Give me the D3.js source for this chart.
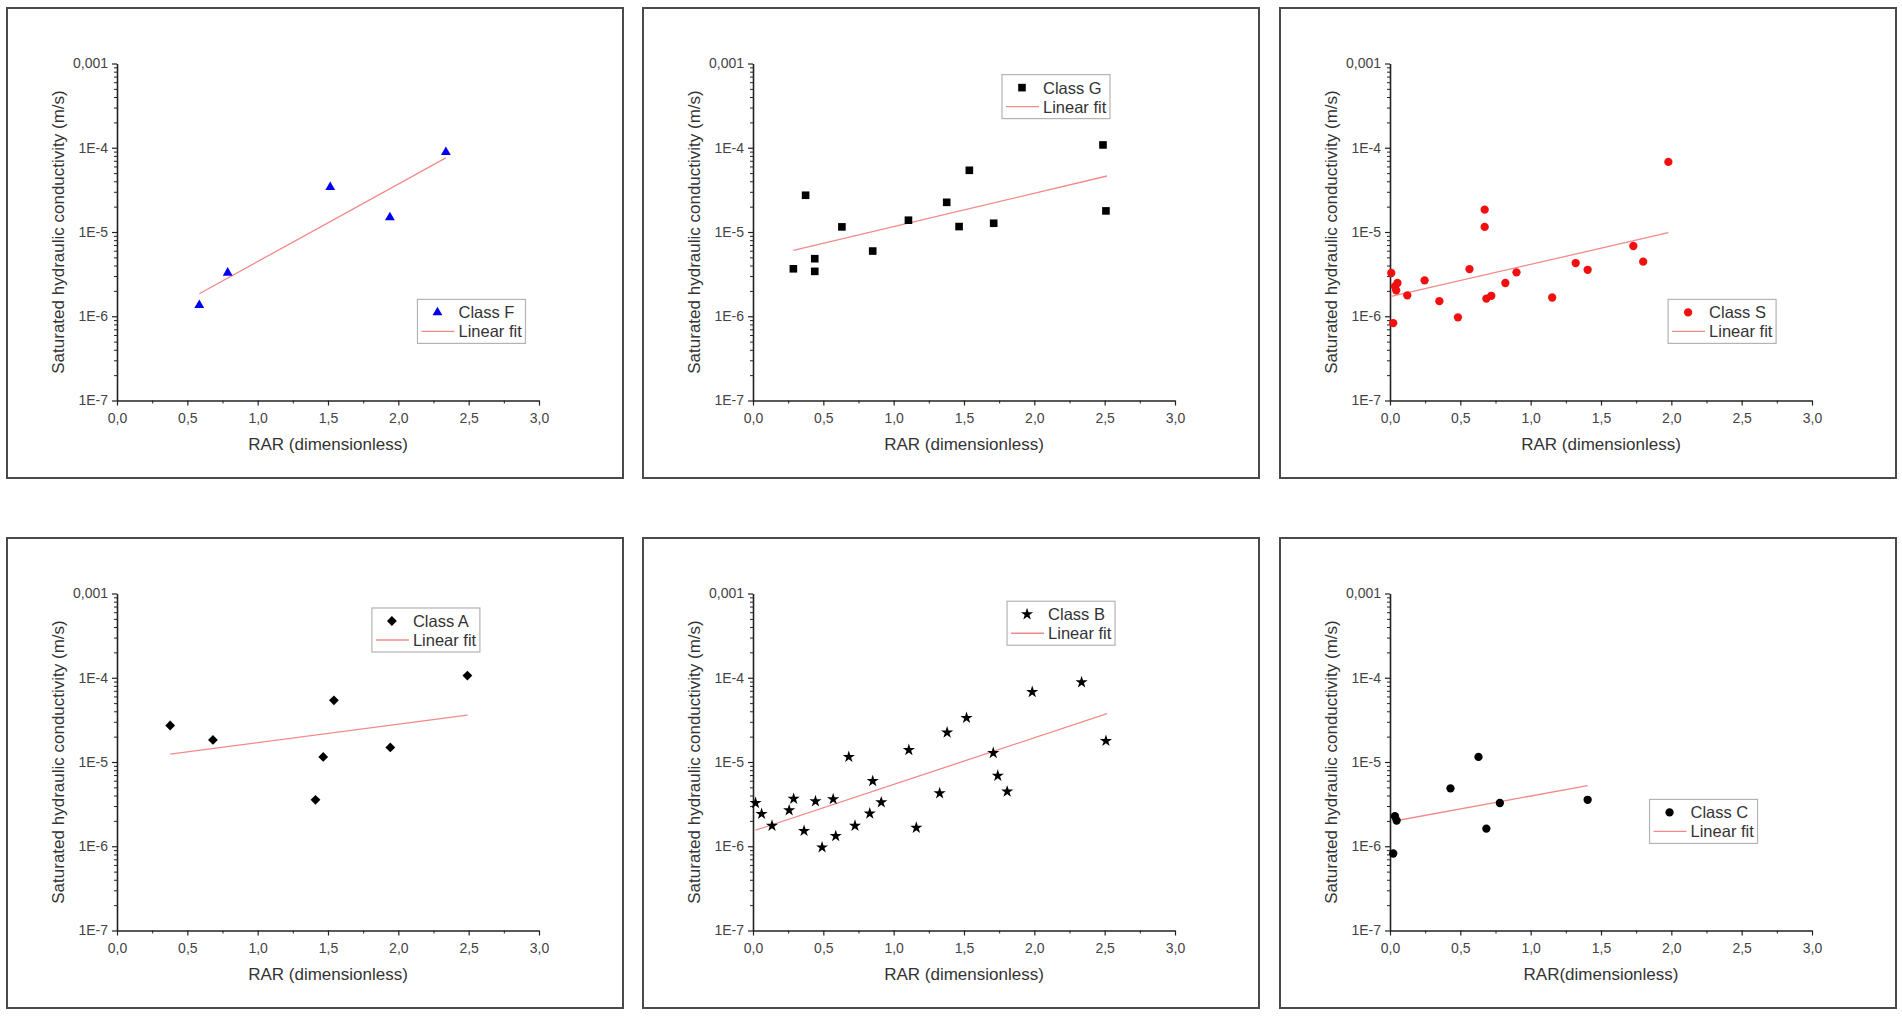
<!DOCTYPE html>
<html>
<head>
<meta charset="utf-8">
<script src="https://cdn.jsdelivr.net/npm/d3@7"></script>
<style>
  html, body { margin: 0; padding: 0; background: #fff; }
  svg { display: block; }
  text { font-family: "Liberation Sans", Arial, sans-serif; }
</style>
</head>
<body>
<div id="chart"></div>
<script>
// Six log-scale scatter panels: saturated hydraulic conductivity vs RAR, one per class.

// --- data ---
const rarF = [0.585, 0.787, 1.516, 1.940, 2.338];
const ksF = [1.35e-6, 3.28e-6, 3.4e-5, 1.49e-5, 8.85e-5];
const fitRarF = [0.585, 2.338];
const fitKsF = [1.85e-6, 7.58e-5];

const rarG = [0.287, 0.374, 0.439, 0.439, 0.632, 0.851, 1.105, 1.377, 1.465, 1.538, 1.711, 2.488, 2.509];
const ksG = [3.66e-6, 2.73e-5, 4.82e-6, 3.41e-6, 1.15e-5, 5.94e-6, 1.38e-5, 2.25e-5, 1.16e-5, 5.4e-5, 1.27e-5, 1.08e-4, 1.78e-5];
const fitRarG = [0.287, 2.517];
const fitKsG = [6.05e-6, 4.62e-5];

const rarS = [0.009, 0.023, 0.035, 0.044, 0.053, 0.123, 0.246, 0.351, 0.483, 0.565, 0.673, 0.673,
              0.685, 0.720, 0.820, 0.899, 1.153, 1.320, 1.405, 1.730, 1.800, 1.979];
const ksS = [3.26e-6, 8.3e-7, 2.26e-6, 2.03e-6, 2.48e-6, 1.77e-6, 2.67e-6, 1.51e-6, 9.7e-7, 3.63e-6, 1.84e-5, 1.15e-5,
             1.62e-6, 1.75e-6, 2.48e-6, 3.32e-6, 1.67e-6, 4.28e-6, 3.56e-6, 6.82e-6, 4.45e-6, 6.79e-5];
const fitRarS = [0.009, 1.979];
const fitKsS = [1.72e-6, 9.8e-6];

const rarA = [0.378, 0.682, 1.411, 1.466, 1.542, 1.943, 2.491];
const ksA = [2.71e-5, 1.83e-5, 3.56e-6, 1.15e-5, 5.4e-5, 1.49e-5, 1.06e-4];
const fitRarA = [0.378, 2.491];
const fitKsA = [1.24e-5, 3.61e-5];

const rarB = [0.018, 0.061, 0.135, 0.257, 0.289, 0.363, 0.444, 0.491, 0.570, 0.588, 0.681, 0.725, 0.830,
              0.851, 0.912, 1.108, 1.161, 1.327, 1.380, 1.518, 1.708, 1.740, 1.807, 1.985, 2.336, 2.509];
const ksB = [3.26e-6, 2.42e-6, 1.75e-6, 2.67e-6, 3.66e-6, 1.52e-6, 3.42e-6, 9.7e-7, 3.62e-6, 1.32e-6, 1.15e-5, 1.75e-6, 2.45e-6,
             5.94e-6, 3.32e-6, 1.39e-5, 1.66e-6, 4.26e-6, 2.24e-5, 3.34e-5, 1.28e-5, 6.87e-6, 4.46e-6, 6.78e-5, 8.85e-5, 1.78e-5];
const fitRarB = [0.018, 2.517];
const fitKsB = [1.55e-6, 3.75e-5];

const rarC = [0.023, 0.035, 0.047, 0.430, 0.629, 0.685, 0.781, 1.405];
const ksC = [8.2e-7, 2.27e-6, 2.02e-6, 4.87e-6, 1.15e-5, 1.62e-6, 3.26e-6, 3.56e-6];
const fitRarC = [0.023, 1.405];
const fitKsC = [1.98e-6, 5.25e-6];

const classLabels = ['Class F', 'Class G', 'Class S', 'Class A', 'Class B', 'Class C'];
const xTitles = ['RAR (dimensionless)', 'RAR (dimensionless)', 'RAR (dimensionless)',
                 'RAR (dimensionless)', 'RAR (dimensionless)', 'RAR(dimensionless)'];
const yTitle = 'Saturated hydraulic conductivity (m/s)';
const fitLabel = 'Linear fit';

const xTicks = [0, 0.5, 1.0, 1.5, 2.0, 2.5, 3.0];
const xTickLabels = ['0,0', '0,5', '1,0', '1,5', '2,0', '2,5', '3,0'];
const yTicks = [1e-7, 1e-6, 1e-5, 1e-4, 1e-3];
const yTickLabels = ['1E-7', '1E-6', '1E-5', '1E-4', '0,001'];

// --- layout ---
const W = 1902, H = 1017;
const panelLefts = [7, 643, 1280];
const panelTops = [8, 538];
const panelW = 616, panelH = 470;
const plotOffX = 110, plotOffY = 55.5;
const plotW = 422, plotH = 337;

const panels = [
  { x: rarF, y: ksF, fx: fitRarF, fy: fitKsF, symbol: 'triangle', color: '#0000f0', legend: [0.712, 0.70] },
  { x: rarG, y: ksG, fx: fitRarG, fy: fitKsG, symbol: 'square', color: '#000', legend: [0.59, 0.033] },
  { x: rarS, y: ksS, fx: fitRarS, fy: fitKsS, symbol: 'circle', color: '#f01010', legend: [0.659, 0.70] },
  { x: rarA, y: ksA, fx: fitRarA, fy: fitKsA, symbol: 'diamond', color: '#000', legend: [0.604, 0.043] },
  { x: rarB, y: ksB, fx: fitRarB, fy: fitKsB, symbol: 'star', color: '#000', legend: [0.602, 0.023] },
  { x: rarC, y: ksC, fx: fitRarC, fy: fitKsC, symbol: 'circle', color: '#000', legend: [0.615, 0.611] }
];

const symbolPath = {
  triangle: d3.symbol(d3.symbolTriangle, 42)(),
  square: d3.symbol(d3.symbolSquare, 58)(),
  circle: d3.symbol(d3.symbolCircle, 54)(),
  diamond: d3.symbol(d3.symbolSquare, 48)(),
  star: d3.symbol(d3.symbolStar, 46)()
};

const svg = d3.select('#chart').append('svg')
  .attr('width', W)
  .attr('height', H);

svg.append('rect').attr('width', W).attr('height', H).attr('fill', '#fff');

const x = d3.scaleLinear().domain([0, 3]).range([0, plotW]);
const y = d3.scaleLog().domain([1e-7, 1e-3]).range([plotH, 0]);

// minor ticks: quarter steps on x, 2..9 within each decade on y
const xMinor = d3.range(0.25, 3, 0.5);
const yMinor = [];
[1e-7, 1e-6, 1e-5, 1e-4].forEach(dec => {
  for (let m = 2; m <= 9; m++) yMinor.push(dec * m);
});

const fitLine = d3.line()
  .x(d => x(d[0]))
  .y(d => y(d[1]));

panels.forEach((p, i) => {
  const px = panelLefts[i % 3];
  const py = panelTops[Math.floor(i / 3)];

  // panel frame
  svg.append('rect')
    .attr('x', px).attr('y', py)
    .attr('width', panelW).attr('height', panelH)
    .attr('fill', 'none')
    .attr('stroke', '#4a4a4a')
    .attr('stroke-width', 2);

  const g = svg.append('g')
    .attr('transform', `translate(${px + plotOffX},${py + plotOffY})`);

  // minor ticks first, so the major axes draw over them
  g.append('g')
    .attr('transform', `translate(0,${plotH})`)
    .call(d3.axisBottom(x).tickValues(xMinor).tickSize(3).tickSizeOuter(0).tickFormat(''))
    .call(a => a.select('.domain').remove());
  g.append('g')
    .call(d3.axisLeft(y).tickValues(yMinor).tickSize(3).tickSizeOuter(0).tickFormat(''))
    .call(a => a.select('.domain').remove());

  const xAxis = g.append('g')
    .attr('transform', `translate(0,${plotH})`)
    .call(d3.axisBottom(x).tickValues(xTicks).tickSize(5).tickSizeOuter(0)
      .tickFormat((d, k) => xTickLabels[k]));
  const yAxis = g.append('g')
    .call(d3.axisLeft(y).tickValues(yTicks).tickSize(5).tickSizeOuter(0)
      .tickFormat((d, k) => yTickLabels[k]));

  [xAxis, yAxis].forEach(a => {
    a.select('.domain').attr('stroke', '#222').attr('stroke-width', 1.6);
    a.selectAll('.tick line').attr('stroke', '#222').attr('stroke-width', 1.2);
    a.selectAll('.tick text')
      .attr('fill', '#444')
      .style('font-size', '14px')
      .style('font-family', '"Liberation Sans", Arial, sans-serif');
  });
  xAxis.selectAll('.tick text').attr('dy', '1.05em');
  yAxis.selectAll('.tick text').attr('x', -9);
  g.selectAll('.tick line').attr('stroke', '#222');

  // axis titles
  g.append('text')
    .attr('x', plotW / 2)
    .attr('y', plotH + 49)
    .attr('text-anchor', 'middle')
    .attr('fill', '#333')
    .style('font-size', '17px')
    .text(xTitles[i]);
  g.append('text')
    .attr('transform', `translate(-53,${plotH / 2}) rotate(-90)`)
    .attr('text-anchor', 'middle')
    .attr('fill', '#333')
    .style('font-size', '17px')
    .text(yTitle);

  // linear fit
  g.append('path')
    .datum(d3.zip(p.fx, p.fy))
    .attr('d', fitLine)
    .attr('fill', 'none')
    .attr('stroke', '#f28a8a')
    .attr('stroke-width', 1.3);

  // points
  g.selectAll('path.pt')
    .data(d3.zip(p.x, p.y))
    .join('path')
    .attr('class', 'pt')
    .attr('d', symbolPath[p.symbol])
    .attr('transform', d => `translate(${x(d[0])},${y(d[1])})` + (p.symbol === 'diamond' ? ' rotate(45)' : ''))
    .attr('fill', p.color);

  // legend
  const lw = 108, lh = 44;
  const lg = g.append('g')
    .attr('transform', `translate(${p.legend[0] * plotW},${p.legend[1] * plotH})`);
  lg.append('rect')
    .attr('width', lw).attr('height', lh)
    .attr('fill', '#fff')
    .attr('stroke', '#b4b4b4')
    .attr('stroke-width', 1.2);
  lg.append('path')
    .attr('d', symbolPath[p.symbol])
    .attr('transform', `translate(20,13)` + (p.symbol === 'diamond' ? ' rotate(45)' : ''))
    .attr('fill', p.color);
  lg.append('line')
    .attr('x1', 4).attr('x2', 37)
    .attr('y1', 32).attr('y2', 32)
    .attr('stroke', '#f28a8a')
    .attr('stroke-width', 1.3);
  lg.append('text')
    .attr('x', 41).attr('y', 19)
    .attr('fill', '#333')
    .style('font-size', '16.5px')
    .text(classLabels[i]);
  lg.append('text')
    .attr('x', 41).attr('y', 38)
    .attr('fill', '#333')
    .style('font-size', '16.5px')
    .text(fitLabel);
});
</script>
</body>
</html>
